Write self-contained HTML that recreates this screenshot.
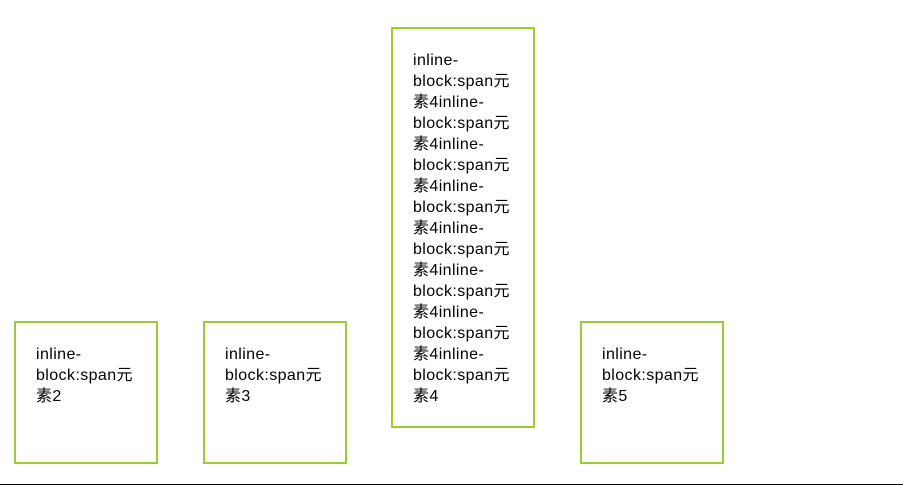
<!DOCTYPE html>
<html><head><meta charset="utf-8"><style>
body{margin:0;width:903px;height:486px;position:relative;background:#fff;overflow:hidden;font-family:"Liberation Sans","Noto Sans CJK SC",sans-serif;font-size:16px;line-height:21px;color:#000;letter-spacing:0.4px}
.b{position:absolute;border:2px solid #9acd32;width:100px;padding:21px 20px 19px 20px;box-sizing:content-box;white-space:nowrap}
.line{position:absolute;left:0;top:484px;width:903px;height:1px;background:#000}
</style></head><body>
<div class="b" style="left:14px;top:321px;height:99px">inline-<br>block:span元<br>素2</div>
<div class="b" style="left:203px;top:321px;height:99px">inline-<br>block:span元<br>素3</div>
<div class="b" style="left:391px;top:27px;height:357px">inline-<br>block:span元<br>素4inline-<br>block:span元<br>素4inline-<br>block:span元<br>素4inline-<br>block:span元<br>素4inline-<br>block:span元<br>素4inline-<br>block:span元<br>素4inline-<br>block:span元<br>素4inline-<br>block:span元<br>素4</div>
<div class="b" style="left:580px;top:321px;height:99px">inline-<br>block:span元<br>素5</div>
<div class="line"></div>
</body></html>
